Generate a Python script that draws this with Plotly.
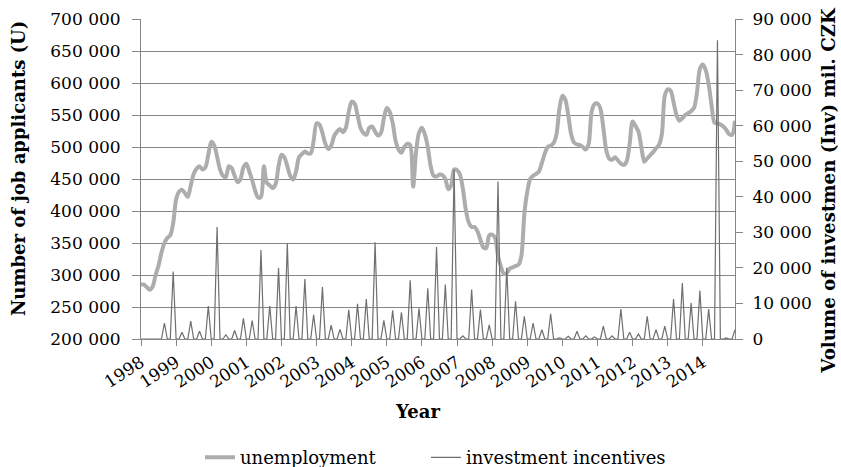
import plotly.graph_objects as go

# ---- data ----
year_labels = ["1998", "1999", "2000", "2001", "2002", "2003", "2004", "2005", "2006",
               "2007", "2008", "2009", "2010", "2011", "2012", "2013", "2014"]
year_tick_months = [0, 12, 24, 36, 48, 60, 72, 84, 96, 108, 120, 132, 144, 156, 168, 180, 192]

# month index 0 = Jan 1998 ... 203 = Dec 2014
months = list(range(204))

# number of job applicants, thousands (monthly)
unemployment = [
    285, 285, 281, 277, 282, 300, 315, 335, 350, 358, 362, 381,   # 1998
    418, 430, 433, 428, 422, 440, 458, 466, 470, 465, 468, 488,   # 1999
    508, 503, 485, 465, 455, 453, 470, 467, 455, 445, 450, 468,   # 2000
    474, 462, 448, 432, 421, 422, 470, 444, 440, 436, 442, 470,   # 2001
    488, 484, 470, 455, 449, 462, 484, 489, 493, 490, 490, 510,   # 2002
    537, 535, 522, 505, 497, 502, 517, 524, 528, 523, 530, 555,   # 2003
    571, 568, 550, 530, 522, 519, 530, 532, 524, 518, 522, 545,   # 2004
    561, 555, 538, 510, 496, 491, 500, 505, 503, 438, 492, 522,   # 2005
    530, 520, 500, 470, 455, 454, 457, 456, 450, 434, 440, 465,   # 2006
    464, 457, 435, 402, 382, 375, 375, 368, 355, 343, 342, 362,   # 2007
    363, 358, 330, 313, 302, 303, 310, 312, 314, 316, 330, 395,   # 2008
    430, 450, 455, 458, 462, 475, 490, 500, 502, 506, 520, 560,   # 2009
    580, 574, 550, 520, 507, 504, 503, 500, 496, 505, 555, 567,   # 2010
    568, 560, 530, 495, 482, 480, 484, 479, 474, 472, 478, 505,   # 2011
    540, 533, 524, 500, 477, 482, 487, 492, 498, 503, 520, 580,   # 2012
    590, 588, 570, 550, 541, 545, 550, 553, 556, 561, 585, 622,   # 2013
    629, 620, 598, 565, 538, 537, 535, 532, 527, 520, 519, 541,   # 2014
]

# volume of investment incentives, mil. CZK (monthly, booked at quarter ends)
investment = [
    0, 0, 0, 0, 0, 0, 0, 0, 4500, 0, 0, 19000,          # 1998
    0, 0, 1900, 0, 0, 5000, 0, 0, 2200, 0, 0, 9300,      # 1999
    0, 0, 31500, 0, 0, 1200, 0, 0, 2400, 0, 0, 5800,     # 2000
    0, 0, 5200, 0, 0, 25000, 0, 0, 9300, 0, 0, 20000,    # 2001
    0, 0, 27000, 0, 0, 9300, 0, 0, 16900, 0, 0, 6800,    # 2002
    0, 0, 14600, 0, 0, 3900, 0, 0, 2700, 0, 0, 8200,     # 2003
    0, 0, 9900, 0, 0, 11250, 0, 0, 27200, 0, 0, 5250,    # 2004
    0, 0, 8100, 0, 0, 7500, 0, 0, 16500, 0, 0, 8600,     # 2005
    0, 0, 14300, 0, 0, 25900, 0, 0, 15300, 0, 0, 47600,  # 2006
    0, 0, 900, 0, 0, 13900, 0, 0, 8300, 0, 0, 4000,      # 2007
    0, 0, 44300, 0, 0, 20000, 0, 0, 10600, 0, 0, 6400,   # 2008
    0, 0, 4500, 0, 0, 2600, 0, 0, 7100, 0, 0, 300,       # 2009
    0, 0, 750, 0, 0, 2200, 0, 0, 900, 0, 0, 560,         # 2010
    0, 0, 3600, 0, 0, 900, 0, 0, 8400, 0, 0, 1900,       # 2011
    0, 0, 1400, 0, 0, 6400, 0, 0, 2600, 0, 0, 3600,      # 2012
    0, 0, 11250, 0, 0, 15750, 0, 0, 10100, 0, 0, 13600,  # 2013
    0, 0, 8400, 0, 0, 84000, 0, 0, 300, 0, 0, 2600,      # 2014
]

left_tick_vals = [200, 250, 300, 350, 400, 450, 500, 550, 600, 650, 700]
left_tick_text = ["200 000", "250 000", "300 000", "350 000", "400 000", "450 000",
                  "500 000", "550 000", "600 000", "650 000", "700 000"]
right_tick_vals = [0, 10000, 20000, 30000, 40000, 50000, 60000, 70000, 80000, 90000]
right_tick_text = ["0", "10 000", "20 000", "30 000", "40 000", "50 000",
                   "60 000", "70 000", "80 000", "90 000"]

# ---- figure ----
FONT = "DejaVu Serif"
AXIS_GREY = "#878787"

fig = go.Figure()
fig.add_trace(go.Scatter(
    x=months, y=unemployment, name="unemployment", mode="lines",
    line=dict(color="#ADADAD", width=4, shape="spline", smoothing=0.8),
    yaxis="y", legend="legend", showlegend=True))
fig.add_trace(go.Scatter(
    x=months, y=investment, name="investment incentives", mode="lines",
    line=dict(color="#6F6F6F", width=1.2),
    yaxis="y2", legend="legend2", showlegend=True))

legend_common = dict(orientation="h", xref="container", yref="container",
                     xanchor="left", yanchor="middle", y=0.02,
                     font=dict(family=FONT, size=18), bgcolor="rgba(0,0,0,0)")

fig.update_layout(
    width=841, height=467,
    margin=dict(l=141, r=106, t=19, b=128),
    paper_bgcolor="white", plot_bgcolor="white",
    showlegend=True,
    font=dict(family=FONT, size=17, color="black"),
    xaxis=dict(
        range=[0, 203], tickmode="array", tickvals=year_tick_months, ticktext=year_labels,
        tickangle=-33, ticks="outside", ticklen=6, tickcolor=AXIS_GREY,
        showline=True, linecolor=AXIS_GREY, linewidth=1, automargin=False,
        showgrid=False, zeroline=False, tickfont=dict(family=FONT, size=17)),
    yaxis=dict(
        range=[200, 700], tickmode="array", tickvals=left_tick_vals, ticktext=left_tick_text,
        ticks="outside", ticklen=8, tickcolor=AXIS_GREY, ticklabelstandoff=8,
        showline=True, linecolor=AXIS_GREY, linewidth=1, automargin=False,
        showgrid=True, gridcolor=AXIS_GREY, gridwidth=1, zeroline=False,
        tickfont=dict(family=FONT, size=17)),
    yaxis2=dict(
        range=[0, 90000], overlaying="y", side="right", tickmode="array",
        tickvals=right_tick_vals, ticktext=right_tick_text,
        ticks="outside", ticklen=7, tickcolor=AXIS_GREY, ticklabelstandoff=6,
        showline=True, linecolor=AXIS_GREY, linewidth=1, automargin=False,
        showgrid=False, zeroline=False, tickfont=dict(family=FONT, size=17)),
    legend=dict(legend_common, x=0.2378),
    legend2=dict(legend_common, x=0.5065),
    annotations=[
        dict(text="<b>Number of job applicants (U)</b>", textangle=-90, showarrow=False,
             xref="paper", yref="paper", x=-0.2071, y=0.534, xanchor="center", yanchor="middle",
             font=dict(family=FONT, size=18)),
        dict(text="<b>Volume of investmen (Inv) mil. CZK</b>", textangle=-90, showarrow=False,
             xref="paper", yref="paper", x=1.158, y=0.466, xanchor="center", yanchor="middle",
             font=dict(family=FONT, size=18.2)),
        dict(text="<b>Year</b>", showarrow=False, xref="paper", yref="paper",
             x=0.4663, y=-0.228, xanchor="center", yanchor="middle",
             font=dict(family=FONT, size=18)),
    ],
)

fig.write_html("out.html")
